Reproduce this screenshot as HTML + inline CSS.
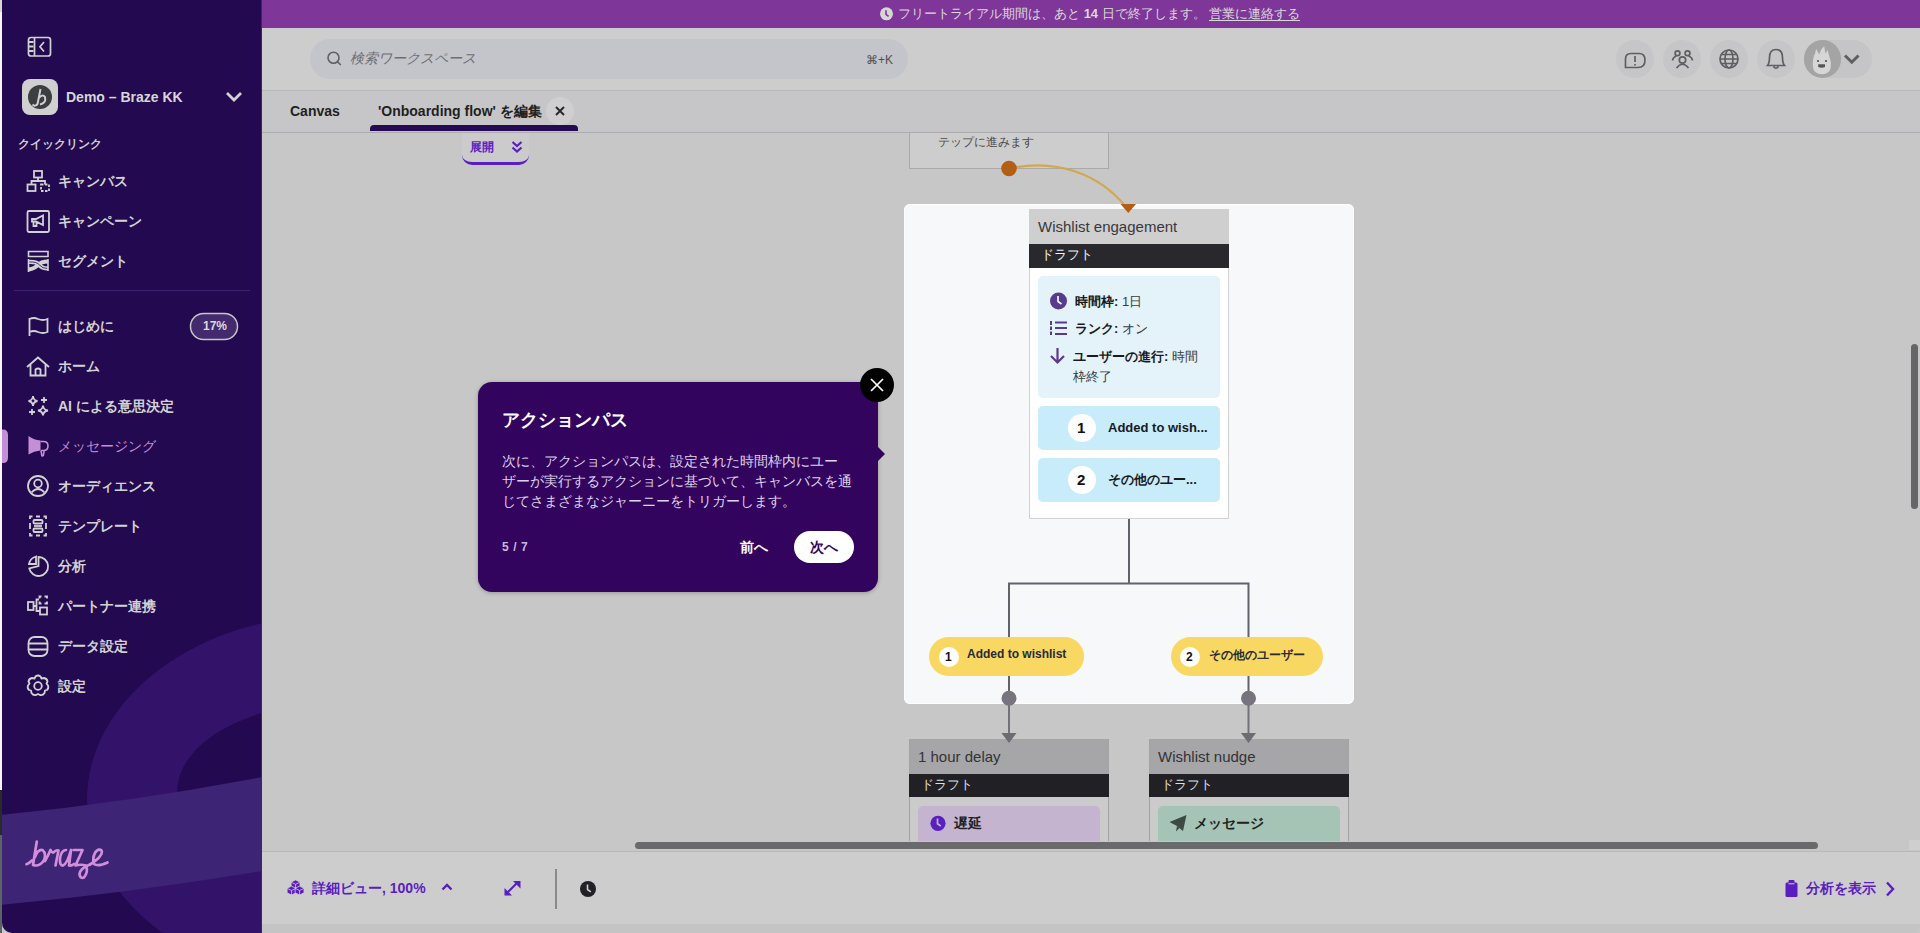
<!DOCTYPE html>
<html><head><meta charset="utf-8">
<style>
*{box-sizing:border-box;margin:0;padding:0}
html,body{width:1920px;height:933px;overflow:hidden;background:#c8c8c8;font-family:"Liberation Sans",sans-serif}
.a{position:absolute}
.t{white-space:nowrap;line-height:1}
#side{left:2px;top:0;width:260px;height:933px;background:#230950;overflow:hidden;border-bottom-left-radius:10px;border-right:1px solid #3a2766}
.mi{position:absolute;left:56px;font-size:14px;color:#d2d2d2;font-weight:bold;white-space:nowrap;line-height:16px}
.ic{position:absolute;left:25px;width:24px;height:24px}
#banner{left:262px;top:0;width:1658px;height:28px;background:#7e3698}
#header{left:262px;top:28px;width:1658px;height:63px;background:#cdcdcd;border-bottom:1px solid #b9b9b9}
#tabs{left:262px;top:91px;width:1658px;height:42px;background:#c6c6c8;border-bottom:1px solid #acacae}
#canvas{left:262px;top:133px;width:1658px;height:718px;background:#c7c7c7}
#bottom{left:262px;top:851px;width:1658px;height:73px;background:#cdcdcd;border-top:1px solid #b8b8b8}
#strip{left:262px;top:924px;width:1658px;height:9px;background:#c4c4c4;border-bottom-right-radius:10px}
</style></head><body>
<div class="a" style="left:0;top:0;width:2px;height:933px;background:#f6f6f8"></div><div class="a" style="left:0;top:0;width:2px;height:12px;background:#d8d8d8"></div><div class="a" style="left:0;top:790px;width:2px;height:45px;background:#2a2a2a"></div><div class="a" style="left:0;top:835px;width:2px;height:98px;background:#5a6466"></div>

<div id="side" class="a">
 <svg class="a" style="left:0;top:0" width="260" height="933" viewBox="2 0 260 933">
  <defs><clipPath id="sc"><rect x="2" y="0" width="260" height="933"/></clipPath></defs>
  <g clip-path="url(#sc)">
   <ellipse cx="335" cy="800" rx="248" ry="185" fill="#33136a"/>
   <ellipse cx="335" cy="792" rx="158" ry="89" fill="#230950"/>
   <path d="M0,815 Q130,802 262,777 L262,871 Q130,893 0,905 Z" fill="#3d2474"/>
  </g>
  <!-- collapse icon -->
  <g fill="none" stroke="#d2d2d2" stroke-width="1.7">
   <rect x="28.5" y="37.5" width="22" height="18.5" rx="2.5"/>
   <line x1="34.5" y1="38" x2="34.5" y2="56"/>
   <path d="M44,42 L40,46.8 L44,51.5"/>
  </g>
  <g fill="#d2d2d2"><rect x="29" y="41" width="4.5" height="2"/><rect x="29" y="45.5" width="4.5" height="2"/><rect x="29" y="50" width="4.5" height="2"/></g>
  <!-- workspace avatar -->
  <rect x="22" y="79" width="36" height="36" rx="8" fill="#d0d0d0"/>
  <circle cx="40" cy="97" r="12" fill="#3c3f3f"/>
  <path d="M40.5,89 Q39,97 37.5,104 Q35,107 32.5,104.5 M38.5,98.5 Q42.5,93.5 45,97 Q46.5,103 40,104.5" fill="none" stroke="#d0d0d0" stroke-width="2"/>
  <path d="M227,93 L234,100 L241,93" fill="none" stroke="#d2d2d2" stroke-width="2.8"/>
  <!-- menu icons -->
  <g fill="none" stroke="#d2d2d2" stroke-width="1.8">
   <!-- canvas -->
   <rect x="34" y="171" width="8" height="6.5"/>
   <line x1="38" y1="177.5" x2="38" y2="181"/>
   <path d="M31.5,184.5 V181 H45 V184.5"/>
   <rect x="27.5" y="184.5" width="8" height="6.5"/>
   <rect x="41" y="184.5" width="8" height="6.5" stroke-dasharray="2.5 1.5"/>
   <!-- campaign -->
   <rect x="27.5" y="211" width="21.5" height="21" rx="1.5"/>
   <path d="M32,219 H36 L43,215.5 V225 L36,221.5 H32 Z M33.5,221.5 V226 H36.5 V222"/>
   <!-- segments -->
   <path d="M28.5,251.5 V256.5 H48 V251.5 Z" stroke-width="1.6"/><path d="M28.5,262 Q37,261.5 39.5,265 Q42,268.5 48,268.5 M28.5,269.5 Q35,268.5 38,265 Q41,261.5 48,261.5" stroke-width="4.2"/><path d="M29,262 Q37,261.5 39.5,265 Q42,268.5 47.5,268.5" stroke="#230950" stroke-width="0.8"/><path d="M28.5,259 V272 M48,259 V271" stroke-width="1.6"/>
   <!-- divider -->
  </g>
  <line x1="14" y1="290.5" x2="250" y2="290.5" stroke="#3b2470" stroke-width="1"/>
  <g fill="none" stroke="#d2d2d2" stroke-width="1.8">
   <!-- flag -->
   <path d="M29.5,336 V318 M29.5,319 Q34,317 38,319 Q43,321 47.5,319 V332 Q43,334 38,332 Q34,330 29.5,332"/>
   <!-- home -->
   <path d="M27,367 L38,357.5 L49,367 M30.5,364.5 V375.5 H45.5 V364.5 M35.5,375.5 V369.5 Q38,367.5 40.5,369.5 V375.5"/>
   <!-- sparkles -->
   <path d="M33,396 Q33.5,400.5 37.5,401 Q33.5,401.5 33,406 Q32.5,401.5 28.5,401 Q32.5,400.5 33,396 Z"/>
   <path d="M44,397 V403 M41,400 H47"/>
   <path d="M32,409 V415 M29,412 H35"/>
   <path d="M43,405.5 Q43.5,410 48,410.5 Q43.5,411 43,415.5 Q42.5,411 38,410.5 Q42.5,410 43,405.5 Z"/>
   <!-- audience -->
   <circle cx="38" cy="486" r="10"/>
   <circle cx="38" cy="483.5" r="3.8"/>
   <path d="M31.5,492.5 Q38,485.5 44.5,492.5"/>
   <!-- templates -->
   <path d="M30,519 V516.5 H32.5 M43.5,516.5 H46 V519 M30,533 V535.5 H32.5 M43.5,535.5 H46 V533 M30,523 V529 M46,523 V529 M36,516.5 H40 M36,535.5 H40"/>
   <rect x="33.5" y="520" width="9" height="3.5" rx="1"/>
   <rect x="33.5" y="528.5" width="9" height="3.5" rx="1"/>
   <path d="M34,526 H42"/>
   <!-- analytics -->
   <path d="M38.5,557 A9.5,9.5 0 1 1 29.3,568.5 L38.5,566 Z"/>
   <path d="M36,556.5 A9.5,9.5 0 0 0 29,564 L36,564 Z"/>
   <!-- partners -->
   <rect x="28" y="602" width="5.5" height="8"/>
   <path d="M33.5,606 H36.5 V599.5 H39 M36.5,606 V611 H40"/>
   <path d="M39.5,598.5 V596.5 H41.5 M44.5,596.5 H47 V598.5 M39.5,601.5 V603.5 H41.5 M44.5,603.5 H47 V601.5"/>
   <rect x="40" y="607.5" width="7" height="7"/>
   <!-- data -->
   <rect x="28.5" y="637" width="19" height="19" rx="6"/>
   <path d="M28.5,643.5 H47.5 M28.5,649.5 H47.5"/>
   <!-- settings -->
   <circle cx="38" cy="686" r="3.8"/>
   <path d="M35.5,676.5 Q38,674.5 40.5,676.5 L41.5,678.5 L44,678 Q47,678.5 47.5,681.5 L46.5,683.5 L48,685.5 Q49,688 47,690 L45,690.5 L44.5,693 Q43,695.5 40,695 L38,694 L36,695 Q33,695.5 31.5,693 L31,690.5 L29,690 Q27,688 28,685.5 L29.5,683.5 L28.5,681.5 Q29,678.5 32,678 L34.5,678.5 Z" stroke-linejoin="round"/>
  </g>
  <!-- messaging active -->
  <path d="M28.5,436 Q34,440 40.5,440.5 V450.5 Q34,451 28.5,454.5 Z" fill="#c48fd6"/>
  <path d="M40.5,441.5 H43.5 Q48,441.5 48,446 Q48,450.5 43.5,450.5 H41 M41,450.5 L41.8,455.5 Q42.5,456.5 43.3,455.5 L44.3,450.5" fill="none" stroke="#c48fd6" stroke-width="1.6"/>
  <path d="M2,429.5 H3 Q8,429.5 8,435 V457.5 Q8,463 3,463 H2 Z" fill="#c48fd6"/>
  <!-- badge -->
  <rect x="190.5" y="313.5" width="47" height="26" rx="13" fill="#432a6e" stroke="#c6c6c6" stroke-width="1.5"/>
  <!-- braze logo -->
  <g fill="none" stroke="#d18fdb" stroke-width="2.7" stroke-linecap="round" stroke-linejoin="round">
   <path d="M26.5,864.2 Q29.5,863 32,860.5"/>
   <path d="M36.8,841.5 L33,865 Q39,867 43.5,861 Q47,854 42.5,850 Q38,849 35,857"/>
   <path d="M45,861 Q48,856 50.5,850 Q52,853 53.5,852.5 Q56,849.5 58.5,850.5 L55.5,865.5"/>
   <path d="M66,850 Q61,850.5 60,858.5 Q59.5,866 63,865.5 Q67,864 71,850 L69,865.5 Q71.5,866 74,864"/>
   <path d="M73.5,850 H82.5 L75.5,865.5 Q81,864 86,865.5 Q88.5,872 84,877.5 Q80,879 79.5,874 Q80.5,868 90,864.5"/>
   <path d="M90,864.5 Q95,861.5 98.5,858 Q103,853 101.5,850.5 Q99,848 95.5,852 Q92,858 94,864 Q98,867 107.5,862.5"/>
  </g>
 </svg>
 <div class="mi" style="left:64px;top:89px;font-size:14px;color:#d6d6d6">Demo – Braze KK</div>
 <div class="mi" style="left:16px;top:137px;font-size:12px;line-height:14px;font-weight:bold;color:#cfcfcf">クイックリンク</div>
 <div class="mi" style="top:173px">キャンバス</div>
 <div class="mi" style="top:213px">キャンペーン</div>
 <div class="mi" style="top:253px">セグメント</div>
 <div class="mi" style="top:318px">はじめに</div>
 <div class="mi" style="top:358px">ホーム</div>
 <div class="mi" style="top:398px">AI による意思決定</div>
 <div class="mi" style="top:438px;color:#c48fd6;font-weight:normal">メッセージング</div>
 <div class="mi" style="top:478px">オーディエンス</div>
 <div class="mi" style="top:518px">テンプレート</div>
 <div class="mi" style="top:558px">分析</div>
 <div class="mi" style="top:598px">パートナー連携</div>
 <div class="mi" style="top:638px">データ設定</div>
 <div class="mi" style="top:678px">設定</div>
 <div class="mi" style="left:201px;top:319px;font-size:12px;line-height:14px;color:#dadada">17%</div>
</div>


<div id="banner" class="a">
 <svg class="a" style="left:618px;top:7px" width="14" height="14" viewBox="0 0 14 14"><circle cx="6.5" cy="6.8" r="6.5" fill="#d6d6d6"/><path d="M6,3.2 V7.3 L8.6,9.4" fill="none" stroke="#7e3698" stroke-width="1.6"/></svg>
 <div class="a t" style="left:636px;top:7px;font-size:13px;color:#d9d9d9">フリートライアル期間は、あと <b>14</b> 日で終了します。</div>
 <div class="a t" style="left:947px;top:7px;font-size:13px;color:#d9d9d9;text-decoration:underline;text-underline-offset:2px">営業に連絡する</div>
</div>
<div id="header" class="a">
 <div class="a" style="left:48px;top:11px;width:598px;height:40px;border-radius:20px;background:#c3c5cb"></div>
 <svg class="a" style="left:64px;top:22px" width="18" height="18" viewBox="0 0 18 18"><circle cx="7.5" cy="7.8" r="5.5" fill="none" stroke="#5f6064" stroke-width="1.6"/><path d="M11.5,11.8 L14.8,15" stroke="#5f6064" stroke-width="1.6"/></svg>
 <div class="a t" style="left:88px;top:23px;font-size:14px;font-style:italic;color:#6e6f73">検索ワークスペース</div>
 <div class="a t" style="left:604px;top:26px;font-size:12px;color:#4f5053">⌘+K</div>
 <div class="a" style="left:1354px;top:12px;width:38px;height:38px;border-radius:19px;background:#c6c6c9"></div>
 <div class="a" style="left:1401px;top:12px;width:38px;height:38px;border-radius:19px;background:#c6c6c9"></div>
 <div class="a" style="left:1448px;top:12px;width:38px;height:38px;border-radius:19px;background:#c6c6c9"></div>
 <div class="a" style="left:1495px;top:12px;width:38px;height:38px;border-radius:19px;background:#c6c6c9"></div>
 <div class="a" style="left:1542px;top:12px;width:68px;height:38px;border-radius:19px;background:#c5c5c7"></div>
 <div class="a" style="left:1542px;top:12px;width:37px;height:38px;border-radius:19px;background:#a4a4a4"></div>
 <svg class="a" style="left:1354px;top:12px" width="260" height="38" viewBox="1616 39 260 38">
  <g fill="none" stroke="#5f5f63" stroke-width="1.7">
   <path d="M1625.5,66.5 V58 Q1625.5,52.5 1631,52.5 H1639 Q1645,52.5 1645,59 Q1645,66.5 1638,66.5 Z"/>
   <path d="M1635,55 V61 M1635,63 V64.5"/>
   <circle cx="1682.5" cy="59" r="3.2"/><path d="M1676.5,67 Q1682.5,59.5 1688.5,67"/>
   <circle cx="1677.5" cy="52.3" r="2.4"/><circle cx="1687.5" cy="52.3" r="2.4"/><path d="M1672.5,59.5 Q1673,56 1676.5,55 M1692.5,59.5 Q1692,56 1688.5,55"/>
   <circle cx="1729" cy="58" r="9"/><ellipse cx="1729" cy="58" rx="4" ry="9"/><path d="M1720,58 H1738 M1721.5,53.5 H1736.5 M1721.5,62.5 H1736.5"/>
   <path d="M1767.5,64.5 Q1769.5,62 1769.5,56.5 Q1769.5,48.5 1776,48.5 Q1782.5,48.5 1782.5,56.5 Q1782.5,62 1784.5,64.5 Z M1773.5,65.5 Q1776,69 1778.5,65.5"/>
   <path d="M1845,54.5 L1851.8,61.2 L1858.5,54.5" stroke-width="3"/>
  </g>
  <path d="M1812.8,65 Q1812.5,57 1815,52.5 L1816.2,48 Q1818,51 1819.2,53.5 Q1821,48 1824.2,45 Q1824.8,50 1825.5,52.5 L1827.7,49 Q1828.5,53 1829.5,56 Q1831.5,61 1830.8,66 Q1830,73.3 1822,73.3 Q1813.5,73.3 1812.8,65 Z" fill="#d6d6d6"/>
  <circle cx="1818" cy="60" r="1.1" fill="#555"/><circle cx="1826" cy="60" r="1.1" fill="#555"/>
  <path d="M1818.2,63.2 H1825 V66 Q1821.5,67.5 1818.2,66 Z" fill="#555"/>
 </svg>
</div>
<div id="tabs" class="a">
 <div class="a t" style="left:28px;top:13px;font-size:14px;font-weight:bold;color:#1f1f1f">Canvas</div>
 <div class="a t" style="left:116px;top:13px;font-size:14px;font-weight:bold;color:#1f1f1f">'Onboarding flow' を編集</div>
 <div class="a" style="left:284px;top:6px;width:28px;height:28px;border-radius:14px;background:#cfcfcf"></div>
 <svg class="a" style="left:292px;top:14px" width="12" height="12" viewBox="0 0 12 12"><path d="M2,2 L10,10 M10,2 L2,10" stroke="#2a2a2a" stroke-width="2"/></svg>
 <div class="a" style="left:108px;top:34px;width:208px;height:6px;border-radius:4px 4px 0 0;background:#240a55"></div>
</div>


<div id="canvas" class="a"></div>
<!-- expand button -->
<div class="a" style="left:462px;top:133px;width:67px;height:32px;background:#cbcbcb;border-bottom:3px solid #5a1fc0;border-radius:0 0 10px 10px"></div>
<div class="a t" style="left:470px;top:141px;font-size:12px;font-weight:bold;color:#5a1fc0">展開</div>
<svg class="a" style="left:510px;top:140px" width="14" height="14" viewBox="0 0 14 14"><path d="M2.5,2 L7,6 L11.5,2 M2.5,7.5 L7,11.5 L11.5,7.5" fill="none" stroke="#5a1fc0" stroke-width="2.2"/></svg>
<!-- top node -->
<div class="a" style="left:909px;top:133px;width:200px;height:36px;background:#cdcdcd;border:1px solid #a9a9a9;border-top:none"></div>
<div class="a t" style="left:938px;top:136px;font-size:12px;color:#4a4a4c">テップに進みます</div>
<!-- highlight -->
<div class="a" style="left:904px;top:204px;width:450px;height:500px;background:#f7f8fa;border-radius:6px;box-shadow:inset 0 0 0 1px #fdfdfe"></div>
<svg class="a" style="left:900px;top:150px" width="460" height="700" viewBox="900 150 460 700">
 <path d="M1009,168.5 C1058,158 1100,175 1126,207" fill="none" stroke="#d3a84c" stroke-width="2.2"/>
 <circle cx="1009" cy="168.5" r="7.8" fill="#b35e12"/>
 <g stroke="#62626a" stroke-width="2" fill="none">
  <path d="M1129,518 V583 M1009,637 V583.5 H1248.5 V637"/>
  <path d="M1009,676 V698 M1248.5,676 V698"/>
 </g>
 <g stroke="#727278" stroke-width="2"><path d="M1009,698 V735 M1248.5,698 V735"/></g>
 <circle cx="1009" cy="698.3" r="7.5" fill="#777480"/>
 <circle cx="1248.5" cy="698.3" r="7.5" fill="#777480"/>
</svg>
<!-- wishlist engagement node -->
<div class="a" style="left:1029px;top:209px;width:200px;height:310px;background:#fff;border:1px solid #d2d2d2"></div>
<div class="a" style="left:1029px;top:209px;width:200px;height:35px;background:#cfcfd0"></div>
<div class="a t" style="left:1038px;top:219px;font-size:15px;color:#38383c">Wishlist engagement</div>
<div class="a" style="left:1029px;top:244px;width:200px;height:24px;background:#28282d"></div>
<div class="a t" style="left:1041px;top:248px;font-size:13px;color:#f0f0f0">ドラフト</div>
<div class="a" style="left:1038px;top:276px;width:182px;height:122px;background:#e3f3f9;border-radius:5px"></div>
<svg class="a" style="left:1048px;top:290px" width="24" height="80" viewBox="1048 290 24 80">
 <circle cx="1058.5" cy="301" r="8.5" fill="#5b3a8e"/>
 <path d="M1058,296 V301.5 L1061.5,304" fill="none" stroke="#e3f3f9" stroke-width="1.8"/>
 <g stroke="#5b3a8e" stroke-width="2"><path d="M1055,322.5 H1067 M1055,328 H1067 M1055,334 H1067"/></g>
 <g fill="#5b3a8e"><rect x="1050" y="321" width="2" height="4"/><rect x="1050" y="326.5" width="2" height="3.5"/><rect x="1050" y="331.5" width="2" height="3.5"/></g>
 <path d="M1057.5,348 V362 M1051,356 L1057.5,362.5 L1064,356" fill="none" stroke="#5b3a8e" stroke-width="2.2"/>
</svg>
<div class="a t" style="left:1075px;top:295px;font-size:13px;color:#3a3a3c"><b style="color:#1a1a1c">時間枠:</b> 1日</div>
<div class="a t" style="left:1075px;top:322px;font-size:13px;color:#3a3a3c"><b style="color:#1a1a1c">ランク:</b> オン</div>
<div class="a t" style="left:1073px;top:350px;font-size:13px;color:#3a3a3c"><b style="color:#1a1a1c">ユーザーの進行:</b> 時間</div>
<div class="a t" style="left:1073px;top:370px;font-size:13px;color:#3a3a3c">枠終了</div>
<div class="a" style="left:1038px;top:406px;width:182px;height:44px;background:#c9ecfb;border-radius:5px"></div>
<div class="a" style="left:1038px;top:458px;width:182px;height:44px;background:#c9ecfb;border-radius:5px"></div>
<div class="a" style="left:1068px;top:414px;width:28px;height:28px;border-radius:14px;background:#fff"></div>
<div class="a" style="left:1068px;top:466px;width:28px;height:28px;border-radius:14px;background:#fff"></div>
<svg class="a" style="left:1118px;top:200px" width="20" height="16" viewBox="1118 200 20 16"><path d="M1120.5,204 L1136,204 L1128.3,213 Z" fill="#b35e12"/></svg>
<div class="a t" style="left:1077px;top:420px;font-size:15px;font-weight:bold;color:#111">1</div>
<div class="a t" style="left:1077px;top:472px;font-size:15px;font-weight:bold;color:#111">2</div>
<div class="a t" style="left:1108px;top:421px;font-size:13px;font-weight:bold;color:#1a1a1c">Added to wish...</div>
<div class="a t" style="left:1108px;top:473px;font-size:13px;font-weight:bold;color:#1a1a1c">その他のユー...</div>
<!-- pills -->
<div class="a" style="left:929px;top:637px;width:155px;height:39px;border-radius:20px;background:#f8d862"></div>
<div class="a" style="left:1171px;top:637px;width:152px;height:39px;border-radius:20px;background:#f8d862"></div>
<div class="a" style="left:939px;top:647px;width:20px;height:20px;border-radius:10px;background:#fff"></div>
<div class="a" style="left:1180px;top:647px;width:20px;height:20px;border-radius:10px;background:#fff"></div>
<div class="a t" style="left:945px;top:651px;font-size:12px;font-weight:bold;color:#111">1</div>
<div class="a t" style="left:1186px;top:651px;font-size:12px;font-weight:bold;color:#111">2</div>
<div class="a t" style="left:967px;top:648px;font-size:12px;font-weight:bold;color:#2a2a35">Added to wishlist</div>
<div class="a t" style="left:1209px;top:649px;font-size:12px;font-weight:bold;color:#2a2a35">その他のユーザー</div>
<!-- bottom nodes -->
<div class="a" style="left:909px;top:739px;width:200px;height:102px;background:#cbcbcb;border-left:1px solid #a3a3a3;border-right:1px solid #a3a3a3;overflow:hidden">
 <div class="a" style="left:0;top:0;width:200px;height:35px;background:#a6a6a8"></div>
</div>
<div class="a" style="left:1149px;top:739px;width:200px;height:102px;background:#cbcbcb;border-left:1px solid #a3a3a3;border-right:1px solid #a3a3a3;overflow:hidden">
 <div class="a" style="left:0;top:0;width:200px;height:35px;background:#a6a6a8"></div>
</div>
<div class="a t" style="left:918px;top:749px;font-size:15px;color:#333336">1 hour delay</div>
<div class="a t" style="left:1158px;top:749px;font-size:15px;color:#333336">Wishlist nudge</div>
<div class="a" style="left:909px;top:774px;width:200px;height:23px;background:#212125"></div>
<div class="a" style="left:1149px;top:774px;width:200px;height:23px;background:#212125"></div>
<div class="a t" style="left:921px;top:778px;font-size:13px;color:#dcdcdc">ドラフト</div>
<div class="a t" style="left:1161px;top:778px;font-size:13px;color:#dcdcdc">ドラフト</div>
<div class="a" style="left:918px;top:806px;width:182px;height:35px;background:#c4b4d0;border-radius:5px 5px 0 0"></div>
<div class="a" style="left:1158px;top:806px;width:182px;height:35px;background:#a6c4b6;border-radius:5px 5px 0 0"></div>
<svg class="a" style="left:928px;top:813px" width="20" height="20" viewBox="928 813 20 20"><circle cx="938" cy="823.3" r="7.6" fill="#5a1fc0"/><path d="M937.5,818.5 V823.8 L940.8,826" fill="none" stroke="#c4b4d0" stroke-width="1.7"/></svg>
<svg class="a" style="left:1166px;top:813px" width="24" height="20" viewBox="1166 813 24 20"><path d="M1169.5,822 L1186.5,815 L1183,831 L1177,826 Z" fill="#3b4a44"/><path d="M1177,826 L1176,831.5 L1179.5,828" fill="#3b4a44"/></svg>
<div class="a t" style="left:954px;top:816px;font-size:14px;font-weight:bold;color:#222">遅延</div>
<div class="a t" style="left:1194px;top:816px;font-size:14px;font-weight:bold;color:#222">メッセージ</div>
<svg class="a" style="left:990px;top:728px" width="280" height="20" viewBox="990 728 280 20"><path d="M1001.5,733 H1016.5 L1009,743 Z M1241,733 H1256 L1248.5,743 Z" fill="#6c6c72"/></svg>
<!-- scrollbars -->
<div class="a" style="left:262px;top:841px;width:1658px;height:10px;background:#c7c7c7"></div>
<div class="a" style="left:635px;top:842px;width:1183px;height:7px;border-radius:4px;background:#6a6a6c"></div>
<div class="a" style="left:1911px;top:344px;width:7px;height:165px;border-radius:4px;background:#666669"></div>
<div class="a" style="left:1909px;top:840px;width:11px;height:10px;background:#cfcfcf"></div>

<div class="a" style="left:478px;top:382px;width:400px;height:210px;border-radius:14px;background:#33045e;box-shadow:0 1px 4px rgba(0,0,0,0.25)"></div>
<svg class="a" style="left:870px;top:440px" width="20" height="28" viewBox="870 440 20 28"><path d="M877,446 L885,454 L877,462 Z" fill="#33045e"/></svg>
<div class="a t" style="left:502px;top:411px;font-size:18px;font-weight:bold;color:#fff">アクションパス</div>
<div class="a" style="left:502px;top:451px;width:360px;font-size:14px;line-height:20px;color:#ddd3ea;white-space:nowrap">次に、アクションパスは、設定された時間枠内にユー<br>ザーが実行するアクションに基づいて、キャンバスを通<br>じてさまざまなジャーニーをトリガーします。</div>
<div class="a t" style="left:502px;top:541px;font-size:12px;font-weight:bold;color:#c6b9da;letter-spacing:0.6px">5 / 7</div>
<div class="a t" style="left:740px;top:540px;font-size:14px;font-weight:bold;color:#fff">前へ</div>
<div class="a" style="left:794px;top:531px;width:60px;height:32px;border-radius:16px;background:#fff"></div>
<div class="a t" style="left:810px;top:540px;font-size:14px;font-weight:bold;color:#33045e">次へ</div>
<div class="a" style="left:859.5px;top:367.5px;width:34px;height:34px;border-radius:17px;background:#000"></div>
<svg class="a" style="left:867.5px;top:375.5px" width="18" height="18" viewBox="0 0 18 18"><path d="M3,3 L15,15 M15,3 L3,15" stroke="#fff" stroke-width="1.7"/></svg>


<div id="bottom" class="a">
 <svg class="a" style="left:25px;top:27px" width="18" height="16" viewBox="286 877 20 18">
  <g fill="#5a1ec0" stroke="#cdcdcd" stroke-width="0.9" stroke-linejoin="round">
   <path d="M295.5,878 L300.5,880.5 V885.5 L295.5,888 L290.5,885.5 V880.5 Z"/>
   <path d="M291,885 L296,887.5 V892.5 L291,895 L286,892.5 V887.5 Z"/>
   <path d="M300,885 L305,887.5 V892.5 L300,895 L295,892.5 V887.5 Z"/>
  </g>
  <g fill="none" stroke="#cdcdcd" stroke-width="0.9"><path d="M290.5,880.5 L295.5,883 L300.5,880.5 M295.5,883 V888 M286,887.5 L291,890 L296,887.5 M291,890 V895 M295,887.5 L300,890 L305,887.5 M300,890 V895"/></g>
 </svg>
 <div class="a t" style="left:50px;top:29px;font-size:14px;font-weight:bold;color:#5a1ec0">詳細ビュー, 100%</div>
 <svg class="a" style="left:178px;top:30px" width="14" height="10" viewBox="0 0 14 10"><path d="M2.5,7.5 L7,3 L11.5,7.5" fill="none" stroke="#5a1ec0" stroke-width="2.4"/></svg>
 <svg class="a" style="left:241px;top:27px" width="20" height="20" viewBox="503 878 20 20">
  <path d="M506,893 L518,881" stroke="#5a1ec0" stroke-width="2.2"/>
  <path d="M513,880 H520.5 V887.5 Z M504.5,887 V894.5 H512 Z" fill="#5a1ec0"/>
 </svg>
 <div class="a" style="left:293px;top:17px;width:2px;height:40px;background:#8a8a8e"></div>
 <svg class="a" style="left:316px;top:27px" width="20" height="20" viewBox="578 878 20 20"><circle cx="588" cy="888" r="8" fill="#222226"/><path d="M587.5,883.5 V888.5 L590.8,890.8" fill="none" stroke="#cdcdcd" stroke-width="1.6"/></svg>
 <svg class="a" style="left:1521px;top:27px" width="16" height="20" viewBox="1783 878 16 20">
  <rect x="1785.5" y="881.5" width="12" height="14.5" rx="1.5" fill="#5a1ec0"/>
  <rect x="1788.5" y="879" width="6" height="4" rx="1" fill="#5a1ec0"/>
  <path d="M1788.5,882.8 H1794.5" stroke="#cdcdcd" stroke-width="1"/>
 </svg>
 <div class="a t" style="left:1544px;top:29px;font-size:14px;font-weight:bold;color:#5a1ec0">分析を表示</div>
 <svg class="a" style="left:1621px;top:28px" width="14" height="18" viewBox="0 0 14 18"><path d="M4,2.5 L10,9 L4,15.5" fill="none" stroke="#5a1ec0" stroke-width="2.4"/></svg>
</div>

<div id="strip" class="a"></div>
</body></html>
